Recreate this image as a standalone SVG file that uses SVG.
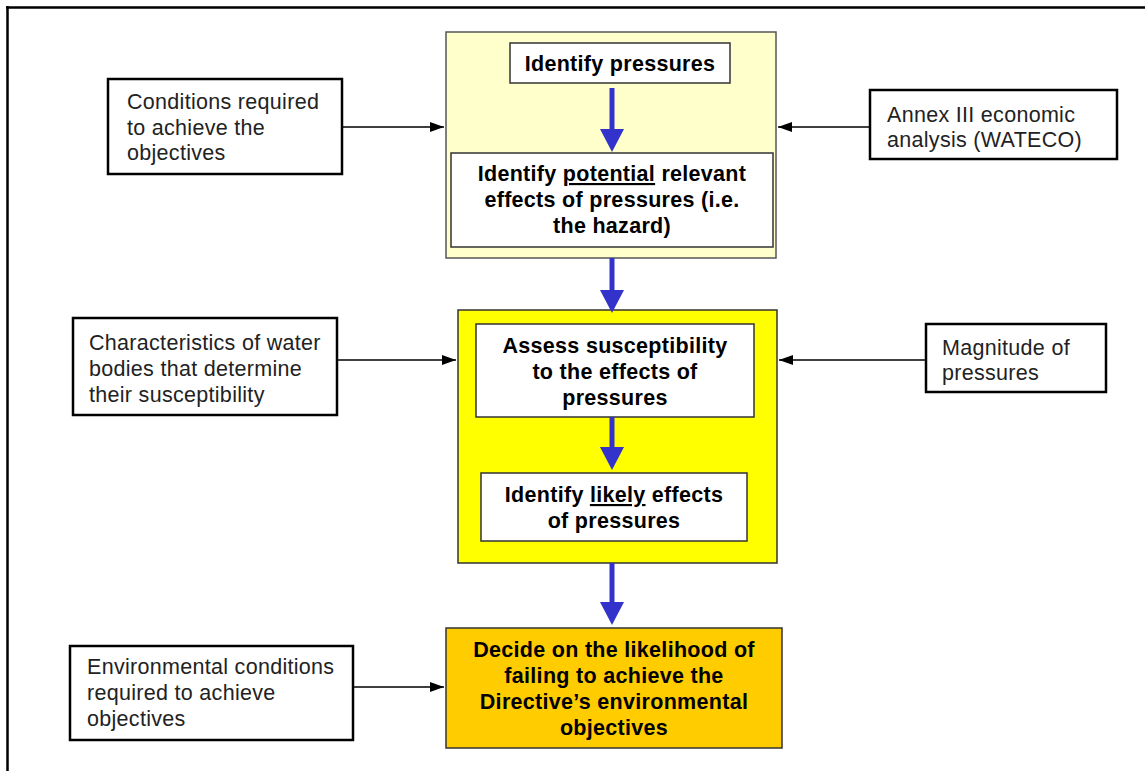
<svg xmlns="http://www.w3.org/2000/svg" width="1145" height="771" viewBox="0 0 1145 771">
<style>
.ext{fill:#fff;stroke:#000;stroke-width:2.5}
.inner{fill:#fff;stroke:#333;stroke-width:1.5}
.t{font-family:"Liberation Sans",Arial,sans-serif;font-size:21.5px;fill:#222;letter-spacing:0.3px}
.b{font-family:"Liberation Sans",Arial,sans-serif;font-size:21.5px;font-weight:bold;fill:#000;text-anchor:middle;letter-spacing:0.3px}
.blue{stroke:#3333cc;stroke-width:5;fill:none;marker-end:url(#bh)}
.blk{stroke:#000;stroke-width:1.5;fill:none;marker-end:url(#kh)}
</style>
<defs>
<marker id="bh" markerUnits="userSpaceOnUse" viewBox="0 0 23 24" markerWidth="23" markerHeight="24" refX="11" refY="12" orient="auto"><path d="M0,0 L23,12 L0,24 z" fill="#3333cc"/></marker>
<marker id="kh" markerUnits="userSpaceOnUse" viewBox="0 0 14 10" markerWidth="14" markerHeight="10" refX="14" refY="5" orient="auto"><path d="M0,0 L14,5 L0,10 z" fill="#000"/></marker>
</defs>
<rect width="1145" height="771" fill="#fff"/>
<path d="M7.5,6 V771 M6,7.5 H1145" stroke="#000" stroke-width="2.5" fill="none"/>

<g id="stage1">
<rect x="446" y="32" width="330" height="226" fill="#ffffcc" stroke="#555" stroke-width="1.5"/>
</g>
<g id="identify-pressures">
<rect class="inner" x="510" y="43" width="220" height="40"/>
<text class="b" x="620" y="71">Identify pressures</text>
</g>
<g id="identify-potential">
<rect class="inner" x="451" y="153" width="322" height="94"/>
<text class="b" x="612" y="181">Identify <tspan style="text-decoration:underline">potential</tspan> relevant</text>
<text class="b" x="612" y="207">effects of pressures (i.e.</text>
<text class="b" x="612" y="233">the hazard)</text>
</g>
<g id="stage2">
<rect x="458" y="310" width="319" height="253" fill="#ffff00" stroke="#333" stroke-width="1.5"/>
</g>
<g id="assess">
<rect class="inner" x="476" y="324" width="278" height="93"/>
<text class="b" x="615" y="353">Assess susceptibility</text>
<text class="b" x="615" y="379">to the effects of</text>
<text class="b" x="615" y="405">pressures</text>
</g>
<g id="identify-likely">
<rect class="inner" x="481" y="473" width="266" height="68"/>
<text class="b" x="614" y="502">Identify <tspan style="text-decoration:underline">likely</tspan> effects</text>
<text class="b" x="614" y="528">of pressures</text>
</g>
<g id="decide">
<rect x="446" y="628" width="336" height="120" fill="#ffcc00" stroke="#333" stroke-width="1.5"/>
<text class="b" x="614" y="657">Decide on the likelihood of</text>
<text class="b" x="614" y="683">failing to achieve the</text>
<text class="b" x="614" y="709">Directive’s environmental</text>
<text class="b" x="614" y="735">objectives</text>
</g>
<g id="conditions">
<rect class="ext" x="108" y="79" width="234" height="95"/>
<text class="t" x="127" y="109">Conditions required</text>
<text class="t" x="127" y="135">to achieve the</text>
<text class="t" x="127" y="160">objectives</text>
</g>
<g id="annex">
<rect class="ext" x="870" y="90" width="247" height="69"/>
<text class="t" x="887" y="122">Annex III economic</text>
<text class="t" x="887" y="147">analysis (WATECO)</text>
</g>
<g id="characteristics">
<rect class="ext" x="73" y="318" width="264" height="97"/>
<text class="t" x="89" y="350">Characteristics of water</text>
<text class="t" x="89" y="376">bodies that determine</text>
<text class="t" x="89" y="402">their susceptibility</text>
</g>
<g id="magnitude">
<rect class="ext" x="926" y="324" width="180" height="68"/>
<text class="t" x="942" y="355">Magnitude of</text>
<text class="t" x="942" y="380">pressures</text>
</g>
<g id="environmental">
<rect class="ext" x="70" y="646" width="283" height="94"/>
<text class="t" x="87" y="674">Environmental conditions</text>
<text class="t" x="87" y="700">required to achieve</text>
<text class="t" x="87" y="726">objectives</text>
</g>

<g id="connectors">
<line class="blue" x1="612" y1="88" x2="612" y2="140"/>
<line class="blue" x1="612" y1="258" x2="612" y2="301"/>
<line class="blue" x1="612" y1="417" x2="612" y2="458"/>
<line class="blue" x1="612" y1="563" x2="612" y2="613"/>
<line class="blk" x1="342" y1="127" x2="444" y2="127"/>
<line class="blk" x1="870" y1="127" x2="778" y2="127"/>
<line class="blk" x1="337" y1="360" x2="456" y2="360"/>
<line class="blk" x1="926" y1="360" x2="779" y2="360"/>
<line class="blk" x1="353" y1="687" x2="444" y2="687"/>
</g>
</svg>
